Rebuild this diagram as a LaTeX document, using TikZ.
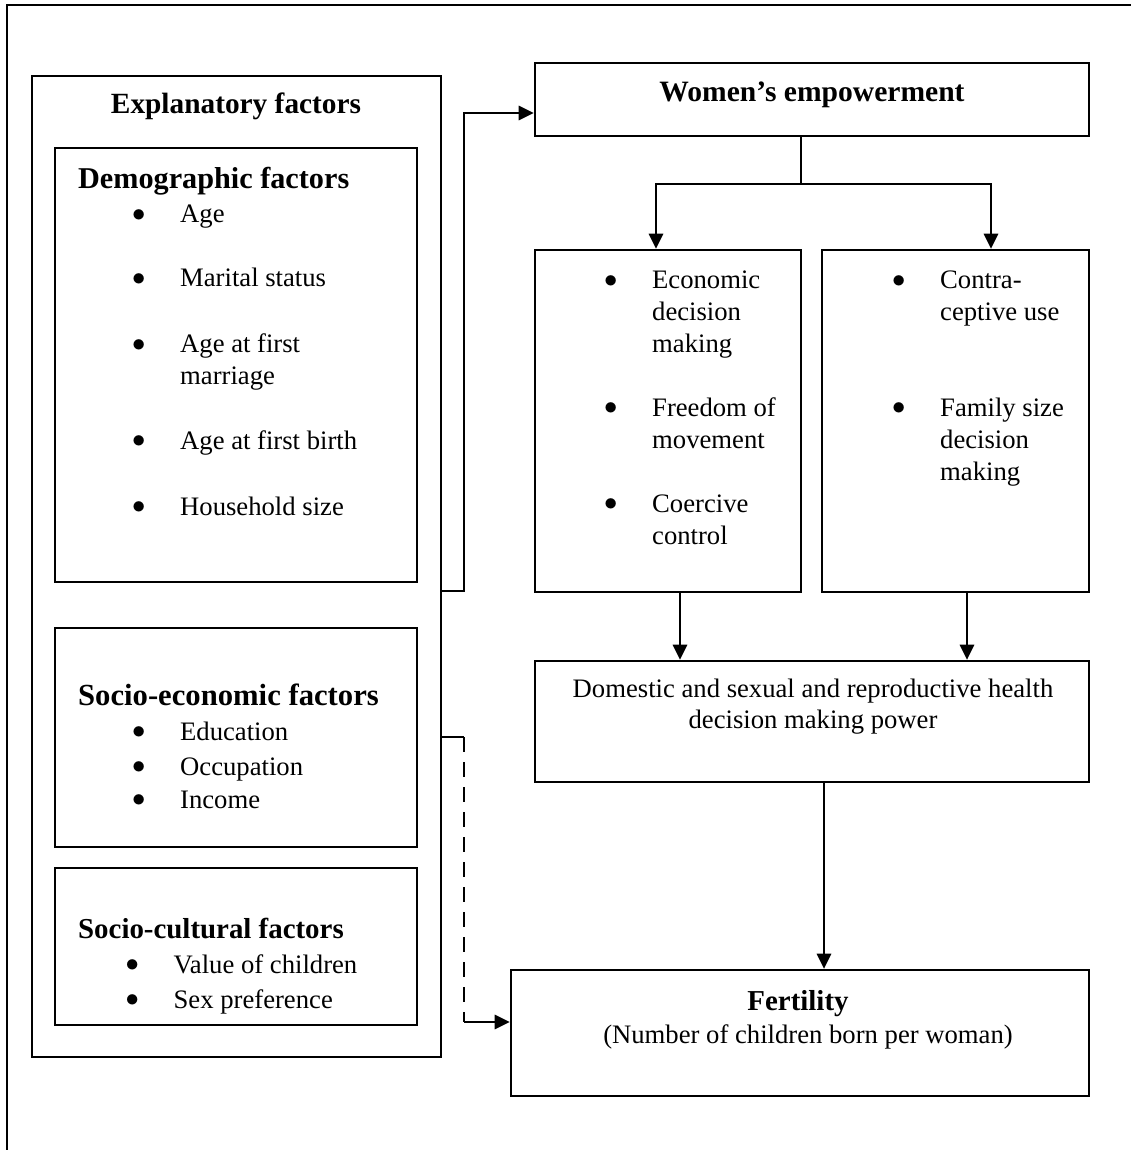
\documentclass[tikz,border=0pt]{standalone}
\usepackage{fontspec}
\setmainfont{Liberation Serif}
\usetikzlibrary{arrows.meta}
\newcommand{\pxu}{0.45pt}
\newcommand{\bl}{\makebox[21.6pt][l]{\raisebox{0.6pt}{$\bullet$}}}
\tikzset{
  box/.style={draw, line width=1.05pt, inner sep=0pt},
  txt/.style={inner sep=0pt, anchor=base west},
  ctr/.style={inner sep=0pt, anchor=base},
  arr/.style={-{Triangle[length=6.8pt,width=6.4pt]}},
}

\begin{document}
\begin{tikzpicture}[x=\pxu, y=-\pxu, line width=1.05pt, font=\fontsize{12}{14.4}\selectfont]
      \useasboundingbox (0,0) rectangle (1131,1150);
      \draw (7,1150) -- (7,5) -- (1131,5);

      % explanatory side
      \node[box, minimum width=409*\pxu, minimum height=981*\pxu] (expl) at (236.5,566.5) {};
      \node[ctr, font=\bfseries\fontsize{13.2}{15.8}\selectfont] (hexpl) at (236,114) {Explanatory factors};

      \node[box, minimum width=362*\pxu, minimum height=434*\pxu] (demo) at (236,365) {};
      \node[txt, font=\bfseries\fontsize{13.6}{16.3}\selectfont] (hdemo) at (77,189) {Demographic factors};
      \node[txt] (d1) at (131,223) {\bl Age};
      \node[txt] (d2) at (131,287) {\bl Marital status};
      \node[txt] (d3) at (131,353) {\bl\parbox[t]{6cm}{Age at first\\ marriage}};
      \node[txt] (d4) at (131,449) {\bl Age at first birth};
      \node[txt] (d5) at (131,515) {\bl Household size};

      \node[box, minimum width=362*\pxu, minimum height=219*\pxu] (socec) at (236,737.5) {};
      \node[txt, font=\bfseries\fontsize{13.8}{16.6}\selectfont] (hsocec) at (77,705) {Socio-economic factors};
      \node[txt] (s1) at (131,740) {\bl Education};
      \node[txt] (s2) at (131,775) {\bl Occupation};
      \node[txt] (s3) at (131,808) {\bl Income};

      \node[box, minimum width=362*\pxu, minimum height=157*\pxu] (soccu) at (236,946.5) {};
      \node[txt, font=\bfseries\fontsize{13}{15.6}\selectfont] (hsoccu) at (77,938) {Socio-cultural factors};
      \node[txt] (c1) at (124.5,973) {\bl Value of children};
      \node[txt] (c2) at (124.5,1008) {\bl Sex preference};

      % empowerment side
      \node[box, minimum width=554*\pxu, minimum height=73*\pxu] (women) at (812,99.5) {};
      \node[ctr, font=\bfseries\fontsize{13.3}{16}\selectfont] (hwomen) at (812,102) {Women’s empowerment};

      \node[box, minimum width=266*\pxu, minimum height=342*\pxu] (econ) at (668,421) {};
      \node[txt] (e1) at (603,289) {\bl\parbox[t]{4cm}{Economic\\ decision\\ making}};
      \node[txt] (e2) at (603,416) {\bl\parbox[t]{4cm}{Freedom of\\ movement}};
      \node[txt] (e3) at (603,512) {\bl\parbox[t]{4cm}{Coercive\\ control}};

      \node[box, minimum width=267*\pxu, minimum height=342*\pxu] (contra) at (955.5,421) {};
      \node[txt] (r1) at (891,289) {\bl\parbox[t]{4cm}{Contra-\\ ceptive use}};
      \node[txt] (r2) at (891,416) {\bl\parbox[t]{4cm}{Family size\\ decision\\ making}};

      \node[box, minimum width=554*\pxu, minimum height=121*\pxu] (dom) at (812,721.5) {};
      \node[ctr] (dom1) at (813,697) {Domestic and sexual and reproductive health};
      \node[ctr] (dom2) at (813,728) {decision making power};

      \node[box, minimum width=578*\pxu, minimum height=126*\pxu] (fert) at (800,1033) {};
      \node[ctr, font=\bfseries\fontsize{13}{15.6}\selectfont] (hfert) at (798,1010) {Fertility};
      \node[ctr] (fert2) at (808,1043) {(Number of children born per woman)};

      % connectors
      \coordinate (eout) at (464,591);
      \coordinate (ein) at (464,113);
      \draw[arr] (eout -| expl.east) -- (eout) -- (ein) -- (ein -| women.west);

      \coordinate (sout) at (464,737);
      \coordinate (sin) at (464,1022);
      \draw (sout -| expl.east) -- (sout);
      \draw[dash pattern=on 6.75pt off 4.5pt] (sout) -- (sin);
      \draw[arr] (sin) -- (sin -| fert.west);

      \coordinate (split) at (801,184);
      \coordinate (lbr) at (656,184);
      \coordinate (rbr) at (991,184);
      \draw (women.south -| split) -- (split);
      \draw[arr] (split) -- (lbr) -- (lbr |- econ.north);
      \draw[arr] (split) -- (rbr) -- (rbr |- contra.north);

      \coordinate (ldown) at (680,0);
      \coordinate (rdown) at (967,0);
      \coordinate (fdown) at (824,0);
      \draw[arr] (econ.south -| ldown) -- (dom.north -| ldown);
      \draw[arr] (contra.south -| rdown) -- (dom.north -| rdown);
      \draw[arr] (dom.south -| fdown) -- (fert.north -| fdown);
\end{tikzpicture}
\end{document}
